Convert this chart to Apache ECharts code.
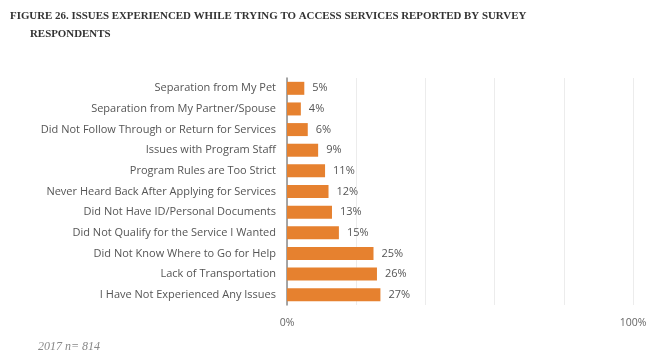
<!DOCTYPE html>
<html><head><meta charset="utf-8">
<script src="https://cdn.jsdelivr.net/npm/echarts@6/dist/echarts.min.js"></script>
<style>html,body{margin:0;padding:0;background:#fff}#c{width:651px;height:362px}</style>
</head><body><div id="c"></div>
<script>
const categories = [
  "Separation from My Pet",
  "Separation from My Partner/Spouse",
  "Did Not Follow Through or Return for Services",
  "Issues with Program Staff",
  "Program Rules are Too Strict",
  "Never Heard Back After Applying for Services",
  "Did Not Have ID/Personal Documents",
  "Did Not Qualify for the Service I Wanted",
  "Did Not Know Where to Go for Help",
  "Lack of Transportation",
  "I Have Not Experienced Any Issues"
];
const values = [5, 4, 6, 9, 11, 12, 13, 15, 25, 26, 27];
const xTickLabels = {0: "0%", 100: "100%"};
const titleText = "FIGURE 26. ISSUES EXPERIENCED WHILE TRYING TO ACCESS SERVICES REPORTED BY SURVEY";
const titleText2 = "RESPONDENTS";
const noteText = "2017 n= 814";

const chart = echarts.init(document.getElementById('c'), null, {renderer: 'canvas'});
chart.setOption({
  animation: false,
  graphic: [
    {type: 'text', left: 10, top: 11, style: {text: titleText, font: 'bold 10.9px "Liberation Serif"', fill: '#333'}},
    {type: 'text', left: 30, top: 29, style: {text: titleText2, font: 'bold 10.9px "Liberation Serif"', fill: '#333'}},
    {type: 'text', left: 38, top: 341, style: {text: noteText, font: 'italic 12px "Liberation Serif"', fill: '#888'}}
  ],
  grid: {left: 287, right: 18, top: 78, bottom: 57},
  xAxis: {
    type: 'value', min: 0, max: 100, interval: 20,
    axisLine: {show: false}, axisTick: {show: false},
    splitLine: {show: true, lineStyle: {color: '#ececec', width: 1}},
    axisLabel: {
      margin: 13, color: '#666', fontFamily: 'Open Sans', fontSize: 10.5,
      formatter: v => xTickLabels[v] || ''
    }
  },
  yAxis: {
    type: 'category', data: categories, inverse: true,
    axisLine: {show: true, lineStyle: {color: '#8a8a8a', width: 1.5}},
    axisTick: {show: false},
    axisLabel: {margin: 11, color: '#555', fontFamily: 'Open Sans', fontSize: 11}
  },
  series: [{
    type: 'bar', data: values, barWidth: 13,
    itemStyle: {color: '#E6812F'},
    label: {show: true, position: 'right', distance: 8, formatter: '{c}%', color: '#555', fontFamily: 'Open Sans', fontSize: 11}
  }]
});
</script></body></html>
